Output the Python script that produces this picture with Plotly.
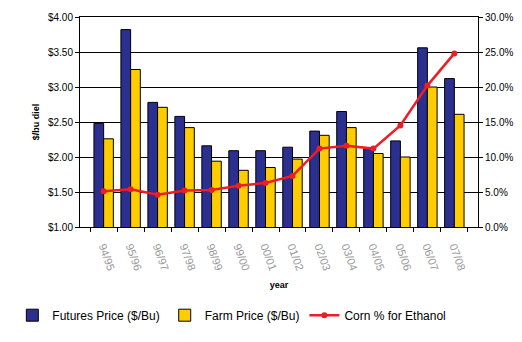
import plotly.graph_objects as go

years = ["94/95", "95/96", "96/97", "97/98", "98/99", "99/00", "00/01",
         "01/02", "02/03", "03/04", "04/05", "05/06", "06/07", "07/08"]
futures_price = [2.48, 3.82, 2.78, 2.58, 2.16, 2.09, 2.09,
                 2.14, 2.37, 2.65, 2.12, 2.23, 3.56, 3.12]
farm_price = [2.26, 3.25, 2.71, 2.42, 1.94, 1.81, 1.85,
              1.97, 2.31, 2.42, 2.05, 2.00, 3.00, 2.61]
corn_pct_ethanol = [5.1, 5.4, 4.6, 5.2, 5.3, 5.9, 6.3,
                    7.3, 11.2, 11.6, 11.2, 14.5, 20.2, 24.8]

font_family = "Liberation Sans, Arial, sans-serif"

fig = go.Figure()
fig.add_trace(go.Bar(
    x=years, y=futures_price, name="Futures Price ($/Bu)",
    marker=dict(color="#2B2F8F", line=dict(color="#000000", width=1)),
))
fig.add_trace(go.Bar(
    x=years, y=farm_price, name="Farm Price ($/Bu)",
    marker=dict(color="#FFCC00", line=dict(color="#000000", width=1)),
))
fig.add_trace(go.Scatter(
    x=years, y=corn_pct_ethanol, name="Corn % for Ethanol", yaxis="y2",
    mode="lines+markers",
    line=dict(color="#EE1C25", width=2.5),
    marker=dict(color="#EE1C25", size=6, symbol="circle"),
))

fig.update_layout(
    width=522, height=342,
    margin=dict(l=70, r=44, t=17, b=108),
    paper_bgcolor="white", plot_bgcolor="white",
    font=dict(family=font_family, size=10, color="#000000"),
    barmode="group", bargap=0.28, bargroupgap=0.0,
    showlegend=True,
    legend=dict(
        orientation="h", x=-0.17, xanchor="left", y=-0.42, yanchor="middle",
        font=dict(size=12, color="#000000"), itemwidth=30,
        traceorder="normal", bgcolor="rgba(0,0,0,0)",
    ),
    xaxis=dict(
        type="category", tickangle=70, automargin=False,
        tickfont=dict(size=11, color="#999999"),
        ticklabelstandoff=8,
        showline=True, linecolor="#000000", linewidth=1, mirror=True,
        ticks="outside", ticklen=4, tickcolor="#000000", tickson="boundaries",
        showgrid=False,
        title=dict(text="<b>year</b>", font=dict(size=9), standoff=10),
    ),
    yaxis=dict(
        range=[1.0, 4.0], dtick=0.5, tickformat="$.2f", automargin=False,
        tickfont=dict(size=10, color="#000000"),
        showline=True, linecolor="#000000", linewidth=1,
        ticks="outside", ticklen=4, tickcolor="#000000",
        showgrid=True, gridcolor="#000000", gridwidth=1,
        zeroline=False,
        title=dict(text="<b>$/bu diel</b>", font=dict(size=9), standoff=6),
    ),
    yaxis2=dict(
        overlaying="y", side="right", automargin=False,
        range=[0, 30], dtick=5, tickformat=".1f", ticksuffix="%",
        tickfont=dict(size=10, color="#000000"),
        showline=True, linecolor="#000000", linewidth=1,
        ticks="outside", ticklen=4, tickcolor="#000000",
        showgrid=False, zeroline=False,
    ),
)

fig.write_html("out.html")
